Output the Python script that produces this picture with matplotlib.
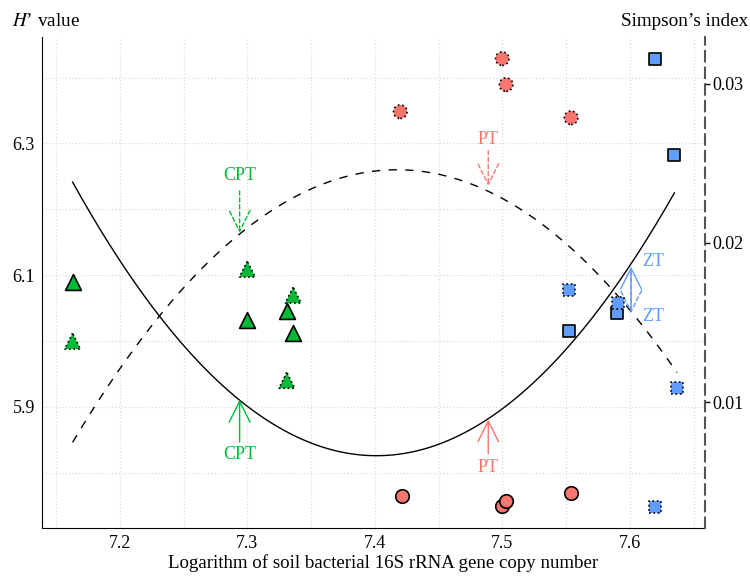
import numpy as np
import matplotlib
matplotlib.use('Agg')
import matplotlib.pyplot as plt
from matplotlib import ticker

plt.rcParams['font.family'] = ['Liberation Serif', 'DejaVu Serif']
plt.rcParams['mathtext.fontset'] = 'stix'

GREEN, RED, BLUE = '#00BA38', '#F8766D', '#619CFF'

# H' value (left axis), solid marker edge
cpt_h_x = [7.163, 7.300, 7.331, 7.336]
cpt_h_y = [6.089, 6.032, 6.045, 6.013]
pt_h_x  = [7.421, 7.500, 7.503, 7.554]
pt_h_y  = [5.765, 5.749, 5.757, 5.769]
zt_h_x  = [7.620, 7.635, 7.552, 7.590]
zt_h_y  = [6.429, 6.283, 6.016, 6.042]

# Simpson's index (right axis), dotted marker edge
cpt_s_x = [7.163, 7.300, 7.336, 7.331]
cpt_s_y = [0.01384, 0.01836, 0.01673, 0.01138]
pt_s_x  = [7.500, 7.503, 7.420, 7.554]
pt_s_y  = [0.03157, 0.02994, 0.02824, 0.02786]
zt_s_x  = [7.552, 7.591, 7.637, 7.620]
zt_s_y  = [0.01704, 0.01623, 0.01088, 0.00346]

# points
h_curve_x = [7.163, 7.231, 7.294, 7.400, 7.635]
h_curve_y = [6.241, 6.040, 5.908, 5.827, 6.225]
s_curve_x = [7.163, 7.231, 7.416, 7.490, 7.637]
s_curve_y = [0.00748, 0.01541, 0.02465, 0.02314, 0.01189]

# turning-point arrows: x, tail, tip, label y, label, colour
h_arrows = [(7.294, 5.847, 5.911, 5.828, 'CPT', GREEN),
            (7.489, 5.829, 5.881, 5.808, 'PT', RED),
            (7.601, 6.045, 6.113, 6.121, 'ZT', BLUE)]
s_arrows = [(7.294, 0.02327, 0.02063, 0.02422, 'CPT', GREEN),
            (7.489, 0.02579, 0.02358, 0.02648, 'PT', RED),
            (7.601, 0.01824, 0.01560, 0.01538, 'ZT', BLUE)]

fig = plt.figure(figsize=(7.5, 5.76), dpi=100)
ax = fig.add_axes([0.056, 0.083, 0.884, 0.852])
ax2 = ax.twinx()

ax.set_xlim(7.139, 7.659)
ax.set_ylim(5.716, 6.461)
ax2.set_ylim(0.0021, 0.0329)

ax.xaxis.set_major_locator(ticker.FixedLocator([7.2, 7.3, 7.4, 7.5, 7.6]))
ax.xaxis.set_minor_locator(ticker.MultipleLocator(0.05))
ax.yaxis.set_major_locator(ticker.FixedLocator([5.9, 6.1, 6.3]))
ax.yaxis.set_minor_locator(ticker.MultipleLocator(0.1))
ax2.yaxis.set_major_locator(ticker.FixedLocator([0.01, 0.02, 0.03]))
ax2.yaxis.set_major_formatter(ticker.FormatStrFormatter('%g'))
ax.grid(which='both', color='#dcdcdc', linestyle=':', linewidth=0.9)
ax.set_axisbelow(True)

for s in ['top', 'right']:
  ax.spines[s].set_visible(False)
for s in ['top', 'left', 'bottom']:
  ax2.spines[s].set_visible(False)
ax2.spines['right'].set_linestyle((0, (5, 3)))
ax2.spines['right'].set_color('#555555')
ax2.spines['right'].set_linewidth(1.5)

ax.tick_params(which='both', length=0, labelsize=13, pad=5)
ax2.tick_params(axis='y', length=3.5, width=1, direction='out', labelsize=13, pad=2)

ax.set_xlabel('Logarithm of soil bacterial 16S rRNA gene copy number', fontsize=13.6)
ax.xaxis.set_label_coords(0.514, -0.052)
fig.text(0.016, 0.963, '$\\mathit{H}$\u2019 value', fontsize=13.8, va='center')
fig.text(0.998, 0.963, 'Simpson\u2019s index', fontsize=13.8, va='center', ha='right')

# curves
hf = np.polyfit(h_curve_x, h_curve_y, 2)
sf = np.polyfit(s_curve_x, s_curve_y, 2)
xx = np.linspace(h_curve_x[0], h_curve_x[-1], 200)
ax.plot(xx, np.polyval(hf, xx), color='k', lw=1)
xs = np.linspace(s_curve_x[0], s_curve_x[-1], 200)
ax2.plot(xs, np.polyval(sf, xs), color='k', lw=1, linestyle=(0, (6, 6)))

# markers
kw = dict(edgecolors='k', linewidths=1.2, zorder=4)
ax.scatter(cpt_h_x, cpt_h_y, marker='^', s=130, c=GREEN, **kw)
ax.scatter(pt_h_x, pt_h_y, marker='o', s=95, c=RED, **kw)
ax.scatter(zt_h_x, zt_h_y, marker='s', s=75, c=BLUE, **kw)
kw['linestyles'] = ':'
ax2.scatter(cpt_s_x, cpt_s_y, marker='^', s=130, c=GREEN, **kw)
ax2.scatter(pt_s_x, pt_s_y, marker='o', s=95, c=RED, **kw)
ax2.scatter(zt_s_x, zt_s_y, marker='s', s=75, c=BLUE, **kw)

# arrows
ast = '->, head_length=1.5, head_width=0.75'
for (x, tail, tip, ly, lab, col) in h_arrows:
  ax.annotate('', xy=(x, tip), xytext=(x, tail),
              arrowprops=dict(arrowstyle=ast, color=col, lw=1, shrinkA=0, shrinkB=0))
  lx = x + (0.0175 if lab == 'ZT' else 0)
  ax.text(lx, ly, lab, color=col, fontsize=13, ha='center', va='center')
for (x, tail, tip, ly, lab, col) in s_arrows:
  ax2.annotate('', xy=(x, tip), xytext=(x, tail),
               arrowprops=dict(arrowstyle=ast, color=col, lw=1, linestyle=(0, (3, 2)),
                               shrinkA=0, shrinkB=0))
  lx = x + (0.0175 if lab == 'ZT' else 0)
  ax2.text(lx, ly, lab, color=col, fontsize=13, ha='center', va='center')

plt.savefig('out.png', dpi=100)
